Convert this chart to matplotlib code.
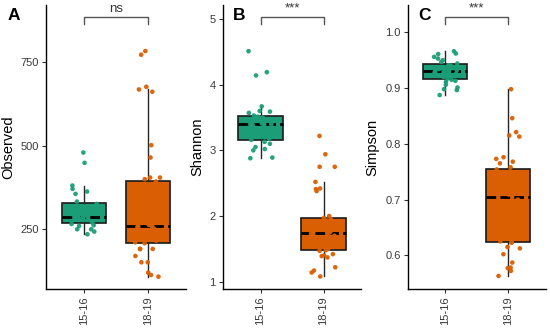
import numpy as np
import matplotlib
matplotlib.use("Agg")
import matplotlib.pyplot as plt
import matplotlib.transforms as mtransforms

plt.rcParams['font.family'] = ['Liberation Sans', 'DejaVu Sans']

groups = ["15-16", "18-19"]
colors = ["#1B9E77", "#D95F02"]

observed_1516 = [235, 243, 250, 250, 260, 262, 266, 270, 274, 278, 281, 284, 285, 286,
                 290, 296, 302, 310, 318, 326, 333, 356, 363, 371, 381, 449, 480]
observed_1819 = [108, 113, 120, 151, 151, 170, 191, 191, 191, 208, 211, 216, 221, 226,
                 232, 237, 242, 247, 252, 257, 263, 275, 290, 305, 320, 335, 350, 365,
                 380, 393, 400, 405, 405, 465, 502, 662, 669, 677, 773, 784]

shannon_1516 = [2.88, 2.89, 3.00, 3.02, 3.05, 3.10, 3.13, 3.16, 3.18, 3.22, 3.26, 3.30,
                3.34, 3.38, 3.40, 3.41, 3.43, 3.46, 3.48, 3.50, 3.51, 3.51, 3.53, 3.57,
                3.59, 3.60, 3.67, 4.14, 4.19, 4.51]
shannon_1819 = [1.08, 1.14, 1.17, 1.22, 1.37, 1.39, 1.40, 1.42, 1.47, 1.48, 1.50, 1.53,
                1.56, 1.60, 1.64, 1.67, 1.70, 1.73, 1.75, 1.78, 1.81, 1.84, 1.87, 1.90,
                1.93, 1.95, 1.97, 2.00, 2.38, 2.41, 2.42, 2.52, 2.75, 2.75, 2.94, 3.22]

simpson_1516 = [0.8875, 0.8965, 0.898, 0.901, 0.906, 0.911, 0.913, 0.915, 0.917, 0.920,
                0.922, 0.924, 0.926, 0.928, 0.929, 0.931, 0.932, 0.934, 0.936, 0.938,
                0.940, 0.941, 0.944, 0.947, 0.950, 0.953, 0.956, 0.961, 0.962, 0.966]
simpson_1819 = [0.563, 0.572, 0.577, 0.578, 0.587, 0.602, 0.6125, 0.615, 0.623, 0.623,
                0.625, 0.632, 0.641, 0.650, 0.660, 0.668, 0.677, 0.686, 0.694, 0.700,
                0.709, 0.715, 0.722, 0.728, 0.734, 0.739, 0.744, 0.748, 0.751, 0.754,
                0.758, 0.765, 0.768, 0.773, 0.776, 0.813, 0.815, 0.821, 0.846, 0.898]

panels = [
    dict(letter="A", ylabel="Observed", data=[observed_1516, observed_1819],
         ylim=(71, 922), ticks=[250, 500, 750], ticklabels=["250", "500", "750"],
         sig="ns"),
    dict(letter="B", ylabel="Shannon", data=[shannon_1516, shannon_1819],
         ylim=(0.889, 5.213), ticks=[1, 2, 3, 4, 5], ticklabels=["1", "2", "3", "4", "5"],
         sig="***"),
    dict(letter="C", ylabel="Simpson", data=[simpson_1516, simpson_1819],
         ylim=(0.5396, 1.049), ticks=[0.6, 0.7, 0.8, 0.9, 1.0],
         ticklabels=["0.6", "0.7", "0.8", "0.9", "1.0"], sig="***"),
]

W, H = 550, 331
fig = plt.figure(figsize=(W / 100, H / 100), dpi=100)

ax_px = [(46, 186), (222.7, 361.3), (407.7, 546)]
top_px, bot_px = 5, 289
letter_px = [(8, 20), (233, 20.5), (418, 20.5)]

rng = np.random.default_rng(7)
tick_col = "#3a3a3a"

for i, p in enumerate(panels):
    l, r = ax_px[i]
    ax = fig.add_axes([l / W, (H - bot_px) / H, (r - l) / W, (bot_px - top_px) / H])
    positions = [1, 2]
    bp = ax.boxplot(p["data"], positions=positions, widths=0.7, whis=1.5,
                    patch_artist=True, showfliers=False, showcaps=False,
                    medianprops=dict(color="black", linewidth=2.0,
                                     linestyle=(0, (3.5, 1.5))),
                    boxprops=dict(edgecolor="#1a1a1a", linewidth=1.2),
                    whiskerprops=dict(color="#262626", linewidth=1.0),
                    zorder=2)
    for patch, c in zip(bp["boxes"], colors):
        patch.set_facecolor(c)
    for pos, vals, c in zip(positions, p["data"], colors):
        vals = np.asarray(vals)
        xj = pos + rng.uniform(-0.2, 0.2, size=len(vals))
        ax.scatter(xj, vals, s=11, color=c, edgecolors="none", zorder=3, alpha=0.95)

    ax.set_xlim(0.4, 2.6)
    ax.set_ylim(*p["ylim"])
    ax.set_xticks(positions)
    ax.set_xticklabels(groups, rotation=90, fontsize=8, color=tick_col)
    ax.set_yticks(p["ticks"])
    ax.set_yticklabels(p["ticklabels"], fontsize=8, color=tick_col)
    ax.tick_params(axis="both", length=3, width=0.8, color="#333333", pad=2)
    for s in ["top", "right"]:
        ax.spines[s].set_visible(False)
    for s in ["left", "bottom"]:
        ax.spines[s].set_linewidth(1.0)
        ax.spines[s].set_color("black")
    ax.set_ylabel(p["ylabel"], fontsize=10.5, labelpad=4, color="black")

    # significance bracket
    trans = mtransforms.blended_transform_factory(ax.transData, ax.transAxes)
    yb = (bot_px - 16.5) / (bot_px - top_px)
    yt = (bot_px - 24) / (bot_px - top_px)
    ax.plot([1, 1, 2, 2], [yt, yb, yb, yt], transform=trans, color="#555555",
            linewidth=1.0, clip_on=False, zorder=4)
    ax.text(1.5, yb + 0.006, p["sig"], transform=trans, ha="center", va="bottom",
            fontsize=9.5, color="#333333")

    lx, ly = letter_px[i]
    fig.text(lx / W, (H - ly) / H, p["letter"], fontsize=12.5, fontweight="bold",
             ha="left", va="baseline")

fig.savefig("out.png", dpi=100)
